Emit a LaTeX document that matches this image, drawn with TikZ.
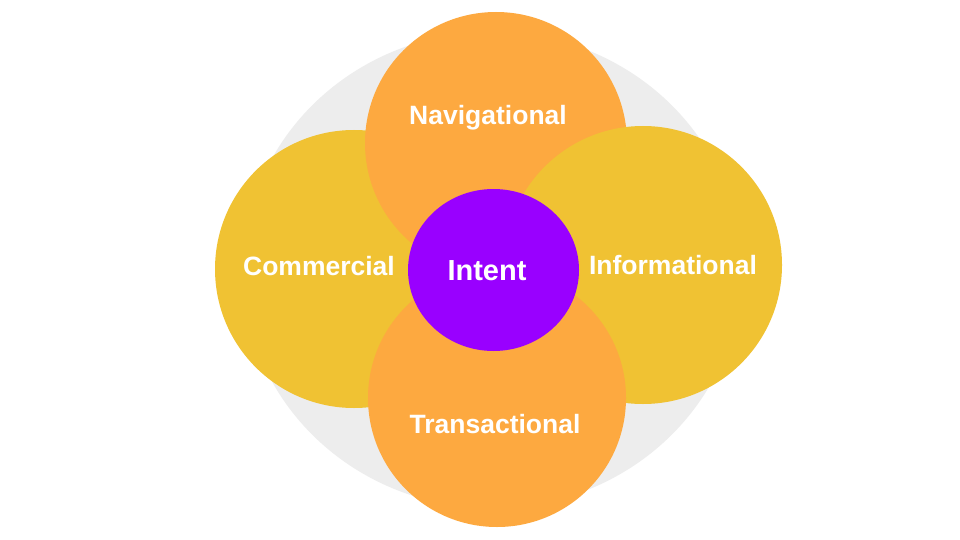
\documentclass[tikz,border=0pt]{standalone}
\usepackage{fontspec}
\setmainfont{Liberation Sans}
\usetikzlibrary{shapes.geometric}
\definecolor{bggray}{HTML}{EDEDED}
\definecolor{orangec}{HTML}{FDA940}
\definecolor{yellowc}{HTML}{F0C233}
\definecolor{purplec}{HTML}{9900FF}
\tikzset{
  blob/.style={ellipse, inner sep=0pt, outer sep=0pt, draw=none},
  lbl/.style={text=white, font=\fontsize{26.5}{30}\selectfont\bfseries, inner sep=0pt},
}
\begin{document}
\begin{tikzpicture}[x=1pt,y=-1pt]
\useasboundingbox[fill=white] (0,0) rectangle (960,540);
\node[blob, fill=bggray, minimum width=498pt, minimum height=476pt] (bg) at (492,270) {};
\node[blob, fill=yellowc, minimum width=278pt, minimum height=278pt] (com) at (354,269) {};
\node[blob, fill=orangec, minimum width=262pt, minimum height=262pt] (nav) at (496,143) {};
\node[blob, fill=yellowc, minimum width=278pt, minimum height=278pt] (inf) at (643,265) {};
\node[blob, fill=orangec, minimum width=258pt, minimum height=258pt] (tra) at (497,398) {};
\node[blob, fill=purplec, minimum width=171pt, minimum height=162pt] (int) at (493.5,270) {};
\node[lbl] (navl) at (488,118) {Navigational};
\node[lbl] (coml) at (319,266) {Commercial};
\node[lbl] (infl) at (673,265) {Informational};
\node[lbl] (tral) at (495,424) {Transactional};
\node[text=white, font=\fontsize{29}{33}\selectfont\bfseries, inner sep=0pt] (intl) at (487,271) {Intent};
\end{tikzpicture}
\end{document}
